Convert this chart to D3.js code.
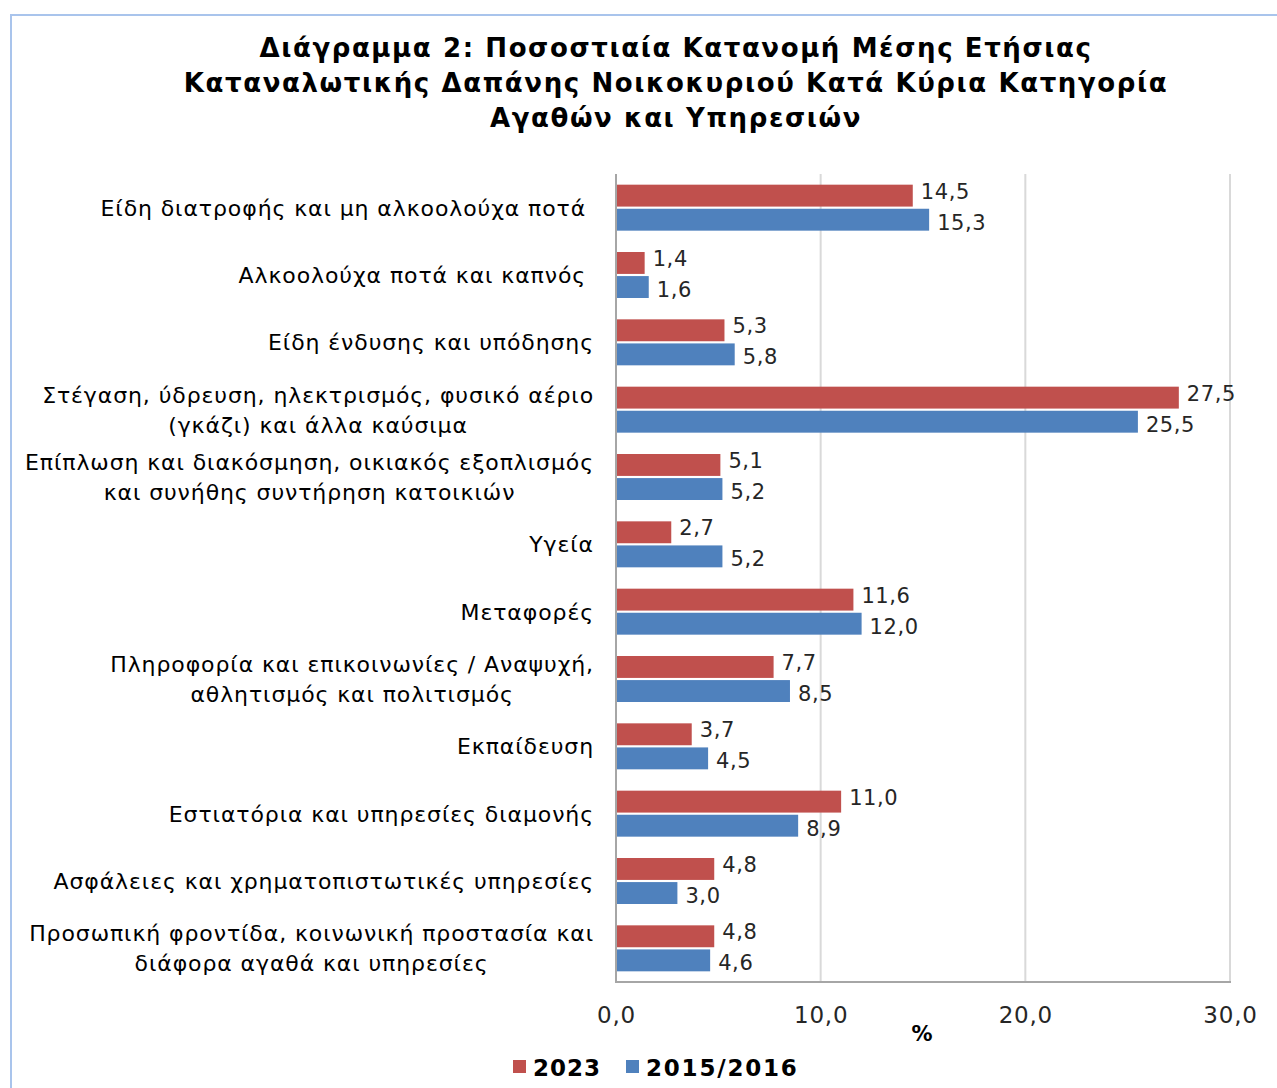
<!DOCTYPE html>
<html>
<head>
<meta charset="utf-8">
<script src="https://cdn.jsdelivr.net/npm/d3@7"></script>
<style>
  body { margin: 0; background: #fff; }
  svg { display: block; }
</style>
</head>
<body>
<div class="canvas"></div>
<script>
// categories (each entry = lines of the label)
const categories = [
    ['Είδη διατροφής και μη αλκοολούχα ποτά\u00a0'],
    ['Αλκοολούχα ποτά και καπνός\u00a0'],
    ['Είδη ένδυσης και υπόδησης'],
    ['Στέγαση, ύδρευση, ηλεκτρισμός, φυσικό αέριο', '(γκάζι) και άλλα καύσιμα'],
    ['Επίπλωση και διακόσμηση, οικιακός εξοπλισμός', 'και συνήθης συντήρηση κατοικιών'],
    ['Υγεία'],
    ['Μεταφορές'],
    ['Πληροφορία και επικοινωνίες / Αναψυχή,', 'αθλητισμός και πολιτισμός'],
    ['Εκπαίδευση'],
    ['Εστιατόρια και υπηρεσίες διαμονής'],
    ['Ασφάλειες και χρηματοπιστωτικές υπηρεσίες'],
    ['Προσωπική φροντίδα, κοινωνική προστασία και', 'διάφορα αγαθά και υπηρεσίες']
]
const series = ['2023', '2015/2016']
const values2023 = [14.5, 1.4, 5.3, 27.5, 5.1, 2.7, 11.6, 7.7, 3.7, 11.0, 4.8, 4.8]
const values2015 = [15.3, 1.6, 5.8, 25.5, 5.2, 5.2, 12.0, 8.5, 4.5, 8.9, 3.0, 4.6]
const xTicks = [0, 10, 20, 30]
const titleLines = [
    'Διάγραμμα 2: Ποσοστιαία Κατανομή Μέσης Ετήσιας',
    'Καταναλωτικής Δαπάνης Νοικοκυριού Κατά Κύρια Κατηγορία',
    'Αγαθών και Υπηρεσιών'
]

const colors = { '2023': '#C0504D', '2015/2016': '#4F81BD' }

const dims = { width: 1277, height: 1088 }
const plot = { left: 616, right: 1230, top: 174, bottom: 982 }

const locale = d3.formatLocale({ decimal: ',', thousands: '.', grouping: [3], currency: ['', '€'] })
const fmt = locale.format('.1f')

const svg = d3.select('.canvas')
    .append('svg')
    .attr('width', dims.width)
    .attr('height', dims.height)

// chart frame (only top/left edges visible in the crop)
svg.append('path')
    .attr('d', `M11,${dims.height} V15 H${dims.width}`)
    .attr('fill', 'none')
    .attr('stroke', '#a9c4ec')
    .attr('stroke-width', 2)

// title
svg.append('text')
    .attr('x', 676)
    .attr('y', 57)
    .attr('text-anchor', 'middle')
    .attr('font-family', 'DejaVu Sans')
    .attr('font-weight', 'bold')
    .attr('font-size', 26)
    .attr('letter-spacing', 1.6)
    .attr('fill', '#000')
    .selectAll('tspan')
    .data(titleLines)
    .join('tspan')
        .attr('x', 676)
        .attr('dy', (d, i) => i ? 35 : 0)
        .text(d => d)

const x = d3.scaleLinear()
    .domain([0, 30])
    .range([plot.left, plot.right])

const y0 = d3.scaleBand()
    .domain(d3.range(categories.length))
    .range([plot.top, plot.bottom])
    .paddingInner(0.317)
    .paddingOuter(0.1585)

const y1 = d3.scaleBand()
    .domain(series)
    .range([0, y0.bandwidth()])
    .paddingInner(0.09)

// gridlines
svg.append('g')
    .selectAll('line')
    .data(xTicks.filter(d => d > 0))
    .join('line')
        .attr('x1', d => x(d))
        .attr('x2', d => x(d))
        .attr('y1', plot.top)
        .attr('y2', plot.bottom)
        .attr('stroke', '#d9d9d9')
        .attr('stroke-width', 2)

// bars
const rows = categories.map((c, i) => ({ i, vals: [
    { s: '2023', v: values2023[i] },
    { s: '2015/2016', v: values2015[i] }
] }))

const groups = svg.append('g')
    .selectAll('g')
    .data(rows)
    .join('g')
        .attr('transform', d => `translate(0, ${y0(d.i)})`)

groups.selectAll('rect')
    .data(d => d.vals)
    .join('rect')
        .attr('x', x(0))
        .attr('y', d => y1(d.s))
        .attr('width', d => x(d.v) - x(0))
        .attr('height', y1.bandwidth())
        .attr('fill', d => colors[d.s])

groups.selectAll('text')
    .data(d => d.vals)
    .join('text')
        .attr('x', d => x(d.v) + 8)
        .attr('y', d => y1(d.s) + y1.bandwidth() / 2 + (d.s === '2023' ? 3 : 10))
        .attr('font-family', 'DejaVu Sans')
        .attr('font-size', 21)
        .attr('letter-spacing', 0.6)
        .attr('fill', '#262626')
        .text(d => fmt(d.v))

// axis lines
svg.append('line')
    .attr('x1', x(0)).attr('x2', x(0))
    .attr('y1', plot.top).attr('y2', plot.bottom)
    .attr('stroke', '#a6a6a6')
    .attr('stroke-width', 2)

svg.append('line')
    .attr('x1', x(0) - 1).attr('x2', plot.right + 1)
    .attr('y1', plot.bottom).attr('y2', plot.bottom)
    .attr('stroke', '#a6a6a6')
    .attr('stroke-width', 2)

// x tick labels
const xAxis = svg.append('g')
    .attr('transform', `translate(0, ${plot.bottom})`)
    .call(d3.axisBottom(x).tickValues(xTicks).tickFormat(fmt).tickSize(0).tickPadding(25))

xAxis.select('.domain').remove()
xAxis.selectAll('text')
    .attr('font-family', 'DejaVu Sans')
    .attr('font-size', 23)
    .attr('letter-spacing', 0.8)
    .attr('fill', '#262626')

svg.append('text')
    .attr('x', 922)
    .attr('y', 1041)
    .attr('text-anchor', 'middle')
    .attr('font-family', 'DejaVu Sans')
    .attr('font-weight', 'bold')
    .attr('font-size', 21)
    .text('%')

// category labels
const labels = svg.append('g')
    .selectAll('text')
    .data(categories)
    .join('text')
        .attr('font-family', 'DejaVu Sans')
        .attr('font-size', 22)
        .attr('letter-spacing', 0.9)
        .attr('fill', '#000')

labels.selectAll('tspan')
    .data((d, i) => d.map((line, j) => ({ line, j, n: d.length, i })))
    .join('tspan')
        .attr('text-anchor', 'end')
        .attr('x', 594)
        .attr('y', d => y0(d.i) + y0.bandwidth() / 2 + 8 + (d.j - (d.n - 1) / 2) * 30)
        .text(d => d.line)

// centre the second line of wrapped labels under the first one
labels.each(function() {
    const tspans = d3.select(this).selectAll('tspan').nodes()
    if (tspans.length < 2) return
    const w0 = tspans[0].getComputedTextLength()
    const mid = 594 - w0 / 2
    d3.select(tspans[1]).attr('text-anchor', 'middle').attr('x', mid)
})

// legend
const legend = svg.append('g')
    .attr('transform', 'translate(513, 1067)')

const legendX = [0, 113]
const li = legend.selectAll('g')
    .data(series)
    .join('g')
        .attr('transform', (d, i) => `translate(${legendX[i]}, 0)`)

li.append('rect')
    .attr('y', -7)
    .attr('width', 13)
    .attr('height', 13)
    .attr('fill', d => colors[d])

li.append('text')
    .attr('x', 20)
    .attr('y', 9)
    .attr('font-family', 'DejaVu Sans')
    .attr('font-weight', 'bold')
    .attr('font-size', 23)
    .attr('letter-spacing', (d, i) => i ? 1.8 : 1)
    .text(d => d)
</script>
</body>
</html>
